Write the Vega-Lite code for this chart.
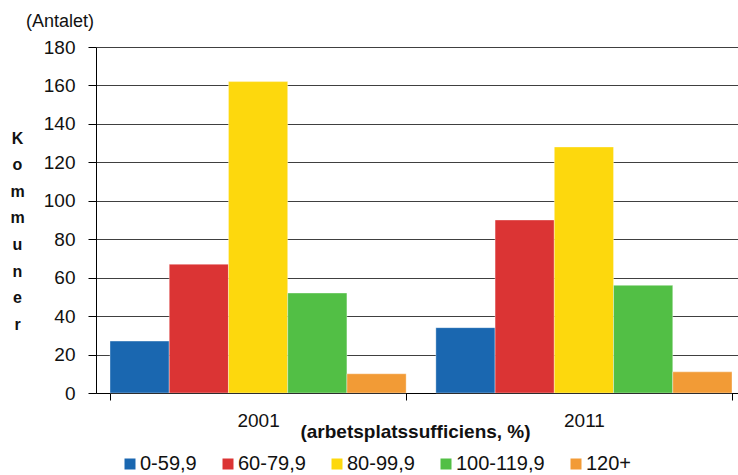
{
  "$schema": "https://vega.github.io/schema/vega-lite/v6.json",
  "autosize": {"type": "none"},
  "padding": {"left": 96, "top": 47, "right": 0, "bottom": 82},
  "width": 650,
  "height": 346,
  "background": "white",
  "config": {
    "font": "Liberation Sans",
    "view": {"stroke": null}
  },
  "title": {
    "text": "(Antalet)",
    "anchor": "start",
    "frame": "group",
    "dx": -70,
    "offset": 7,
    "fontSize": 18,
    "fontWeight": "normal",
    "color": "#111"
  },
  "data": {
    "values": [
      {"year": "2001", "range": "0-59,9", "count": 27},
      {"year": "2001", "range": "60-79,9", "count": 67},
      {"year": "2001", "range": "80-99,9", "count": 162},
      {"year": "2001", "range": "100-119,9", "count": 52},
      {"year": "2001", "range": "120+", "count": 10},
      {"year": "2011", "range": "0-59,9", "count": 34},
      {"year": "2011", "range": "60-79,9", "count": 90},
      {"year": "2011", "range": "80-99,9", "count": 128},
      {"year": "2011", "range": "100-119,9", "count": 56},
      {"year": "2011", "range": "120+", "count": 11}
    ]
  },
  "mark": {"type": "bar", "stroke": "#ffffff", "strokeWidth": 0.6, "strokeOpacity": 0.6},
  "encoding": {
    "x": {
      "field": "year",
      "type": "nominal",
      "scale": {"paddingInner": 0.0912, "paddingOuter": 0.043},
      "axis": {
        "title": "(arbetsplatssufficiens, %)",
        "titleFontSize": 19,
        "titleFontWeight": "bold",
        "titleColor": "#111",
        "titleY": 29,
        "titleBaseline": "top",
        "titleX": 319,
        "labelAngle": 0,
        "labelFontSize": 19,
        "labelColor": "#111",
        "labelPadding": 11,
        "tickBand": "extent",
        "tickSize": 7,
        "tickColor": "#000",
        "domainColor": "#000",
        "domainWidth": 1.2
      }
    },
    "xOffset": {
      "field": "range",
      "type": "nominal",
      "sort": ["0-59,9", "60-79,9", "80-99,9", "100-119,9", "120+"],
      "scale": {"paddingInner": 0, "paddingOuter": 0}
    },
    "y": {
      "field": "count",
      "type": "quantitative",
      "scale": {"domain": [0, 180], "nice": false},
      "axis": {
        "values": [0, 20, 40, 60, 80, 100, 120, 140, 160, 180],
        "title": ["K", "o", "m", "m", "u", "n", "e", "r"],
        "titleAngle": 0,
        "titleAlign": "center",
        "titleBaseline": "top",
        "titleX": -79,
        "titleY": 83,
        "titleLineHeight": 26.6,
        "titleFontSize": 16,
        "titleFontWeight": "bold",
        "titleColor": "#111",
        "labelFontSize": 19,
        "labelColor": "#111",
        "labelPadding": 13,
        "tickSize": 8,
        "tickColor": "#000",
        "domainColor": "#000",
        "grid": true,
        "gridColor": "#404040",
        "gridWidth": 1
      }
    },
    "color": {
      "field": "range",
      "type": "nominal",
      "sort": ["0-59,9", "60-79,9", "80-99,9", "100-119,9", "120+"],
      "scale": {
        "domain": ["0-59,9", "60-79,9", "80-99,9", "100-119,9", "120+"],
        "range": ["#1a67b0", "#db3434", "#fdd80d", "#52bf45", "#f29b36"]
      },
      "legend": {
        "title": null,
        "orient": "none",
        "direction": "horizontal",
        "legendX": 24,
        "legendY": 407,
        "padding": 0,
        "symbolType": "square",
        "symbolSize": 121,
        "symbolStrokeWidth": 0,
        "symbolOpacity": 1,
        "labelFontSize": 20,
        "labelColor": "#111",
        "labelOffset": 0,
        "columnPadding": 21
      }
    }
  }
}
